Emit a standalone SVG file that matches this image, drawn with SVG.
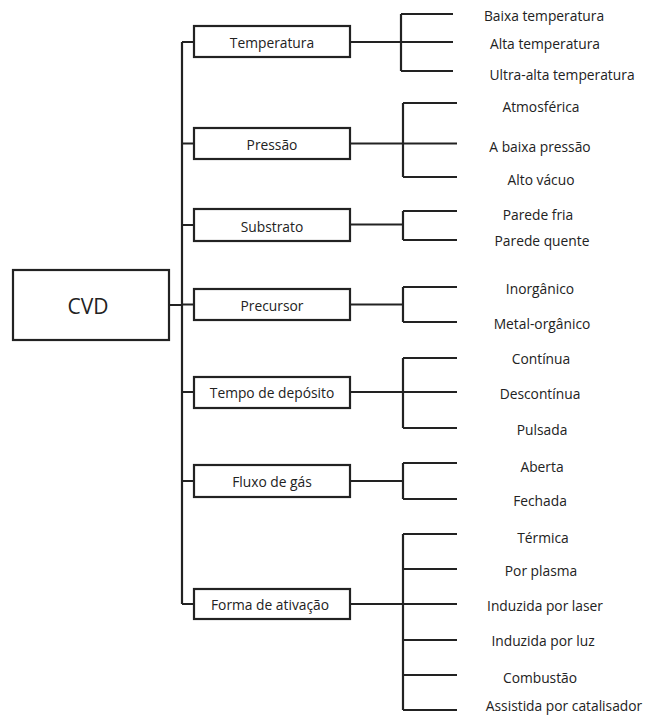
<svg xmlns="http://www.w3.org/2000/svg" width="647" height="715" viewBox="0 0 647 715">
<style>
.box{fill:#fff;stroke:#222;stroke-width:2.2}
.ln{fill:none;stroke:#222;stroke-width:2.2}
text{font-family:"Open Sans","Noto Sans",sans-serif;font-size:13.8px;fill:#222;text-anchor:middle;dominant-baseline:central}
.big{font-size:21px}
</style>
<rect width="647" height="715" fill="#fff"/>
<g id="connectors">
<path class="ln" d="M169 305H182M182 42V604M182 42H194M182 143.5H194M182 225H194M182 304.5H194M182 392H194M182 481H194M182 604H194"/>
<path class="ln" d="M350 42H401M401 14V71M401 14H453M401 42H453M401 71H453"/>
<path class="ln" d="M350 143.5H403M403 103V177M403 103H457M403 143.5H457M403 177H457"/>
<path class="ln" d="M350 224.5H403M403 211V240M403 211H457M403 240H457"/>
<path class="ln" d="M350 304.5H403M403 287V322M403 287H457M403 322H457"/>
<path class="ln" d="M350 392H403M403 358V428M403 358H457M403 392H457M403 428H457"/>
<path class="ln" d="M350 481H403M403 463V499M403 463H457M403 499H457"/>
<path class="ln" d="M350 604H403M403 534V710M403 534H457M403 569H457M403 604H457M403 640H457M403 675H457M403 710H457"/>
</g>
<g id="cvd"><rect class="box" x="13" y="270" width="156" height="70"/><text class="big" x="88" y="306">CVD</text></g>
<g id="temperatura"><rect class="box" x="194" y="26" width="156" height="31"/><text x="272" y="42">Temperatura</text></g>
<g id="pressao"><rect class="box" x="194" y="128" width="156" height="31"/><text x="272" y="144">Pressão</text></g>
<g id="substrato"><rect class="box" x="194" y="209" width="156" height="32"/><text x="272" y="226">Substrato</text></g>
<g id="precursor"><rect class="box" x="194" y="289" width="156" height="31"/><text x="272" y="305">Precursor</text></g>
<g id="tempo"><rect class="box" x="194" y="377" width="156" height="31"/><text x="272" y="392">Tempo de depósito</text></g>
<g id="fluxo"><rect class="box" x="194" y="465" width="156" height="32"/><text x="272" y="481">Fluxo de gás</text></g>
<g id="forma"><rect class="box" x="194" y="589" width="156" height="30"/><text x="270" y="604">Forma de ativação</text></g>
<g id="leaves">
<text x="544" y="15">Baixa temperatura</text>
<text x="545" y="43">Alta temperatura</text>
<text x="562" y="74">Ultra-alta temperatura</text>
<text x="541" y="106">Atmosférica</text>
<text x="540" y="146">A baixa pressão</text>
<text x="541" y="179">Alto vácuo</text>
<text x="538" y="214">Parede fria</text>
<text x="542" y="240">Parede quente</text>
<text x="540" y="288">Inorgânico</text>
<text x="542" y="323">Metal-orgânico</text>
<text x="541" y="358">Contínua</text>
<text x="540" y="393">Descontínua</text>
<text x="542" y="429">Pulsada</text>
<text x="542" y="466">Aberta</text>
<text x="540" y="500">Fechada</text>
<text x="543" y="537">Térmica</text>
<text x="541" y="570">Por plasma</text>
<text x="545" y="605">Induzida por laser</text>
<text x="543" y="640">Induzida por luz</text>
<text x="540" y="677">Combustão</text>
<text x="564" y="705">Assistida por catalisador</text>
</g>
</svg>
